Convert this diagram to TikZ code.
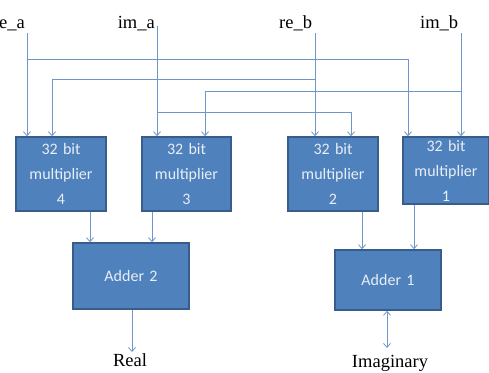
\documentclass[tikz,border=0pt]{standalone}
\usepackage{fontspec}
\setmainfont{Liberation Serif}
\newfontfamily\boxfont{Carlito}
\usetikzlibrary{arrows.meta}
\definecolor{boxfill}{RGB}{79,129,189}
\definecolor{boxline}{RGB}{56,93,138}
\definecolor{wire}{RGB}{111,150,204}
\definecolor{boxtext}{RGB}{232,238,247}
\tikzset{
  blk/.style={draw=boxline, line width=1.5pt, fill=boxfill, text=boxtext, inner sep=0pt,
    align=center, font=\boxfont\fontsize{16}{25}\selectfont},
  lbl/.style={font=\fontsize{18.5}{20}\selectfont, inner sep=0pt},
  conn/.style={draw=wire, line width=0.8pt},
  arr/.style={conn, -{Straight Barb[length=4pt,width=7pt]}},
  darr/.style={conn, {Straight Barb[length=4pt,width=7pt]}-{Straight Barb[length=4pt,width=7pt]}}
}
\begin{document}
\begin{tikzpicture}[x=1pt,y=-1pt]
\useasboundingbox (0,0) rectangle (489,372);
% labels
\node[lbl, anchor=base east] (lra) at (25,28) {re\_a};
\node[lbl, anchor=base east] (lia) at (155,28) {im\_a};
\node[lbl, anchor=base west] (lrb) at (279,28) {re\_b};
\node[lbl, anchor=base west] (lib) at (420,28) {im\_b};
% blocks
\node[blk, minimum width=90pt, minimum height=74pt, text width=90pt] (m4) at (61,174) {32 bit\\multiplier\\4};
\node[blk, minimum width=89pt, minimum height=74pt, text width=89pt] (m3) at (186.5,174) {32 bit\\multiplier\\3};
\node[blk, minimum width=90pt, minimum height=74pt, text width=90pt] (m2) at (333,174) {32 bit\\multiplier\\2};
\node[blk, minimum width=86pt, minimum height=67pt, text width=86pt] (m1) at (446,170.5) {32 bit\\multiplier\\1};
\node[blk, minimum width=116pt, minimum height=66pt, text width=116pt] (a2) at (131,276) {Adder 2};
\node[blk, minimum width=106pt, minimum height=60pt, text width=106pt] (a1) at (388,280) {Adder 1};
\node[lbl, anchor=base] (re) at (130,366) {Real};
\node[lbl, anchor=base] (im) at (390,367) {Imaginary};
% wire tops
\coordinate (ra) at (27,33);
\coordinate (ia) at (157,26);
\coordinate (rb) at (315,33);
\coordinate (ib) at (461,33);
\coordinate (b1) at (408,59);
\coordinate (b2) at (52,79);
\coordinate (b3) at (205,91);
\coordinate (b4) at (351,112);
% inputs
\draw[arr] (ra) -- (ra |- m4.north);
\draw[arr] (ia) -- (ia |- m3.north);
\draw[arr] (rb) -- (rb |- m2.north);
\draw[arr] (ib) -- (ib |- m1.north);
\draw[arr] (ra |- b1) -- (b1) -- (b1 |- m1.north);
\draw[arr] (rb |- b2) -- (b2) -- (b2 |- m4.north);
\draw[arr] (ib |- b3) -- (b3) -- (b3 |- m3.north);
\draw[arr] (ia |- b4) -- (b4) -- (b4 |- m2.north);
% to adders
\draw[arr] (m4.south -| 90,0) -- (a2.north -| 90,0);
\draw[arr] (m3.south -| 152,0) -- (a2.north -| 152,0);
\draw[arr] (m2.south -| 362,0) -- (a1.north -| 362,0);
\draw[arr] (m1.south -| 414,0) -- (a1.north -| 414,0);
% outputs
\draw[arr] (a2.south -| 132,0) -- (132,352);
\draw[darr] (a1.south -| 387,0) -- (387,348);
\end{tikzpicture}
\end{document}
